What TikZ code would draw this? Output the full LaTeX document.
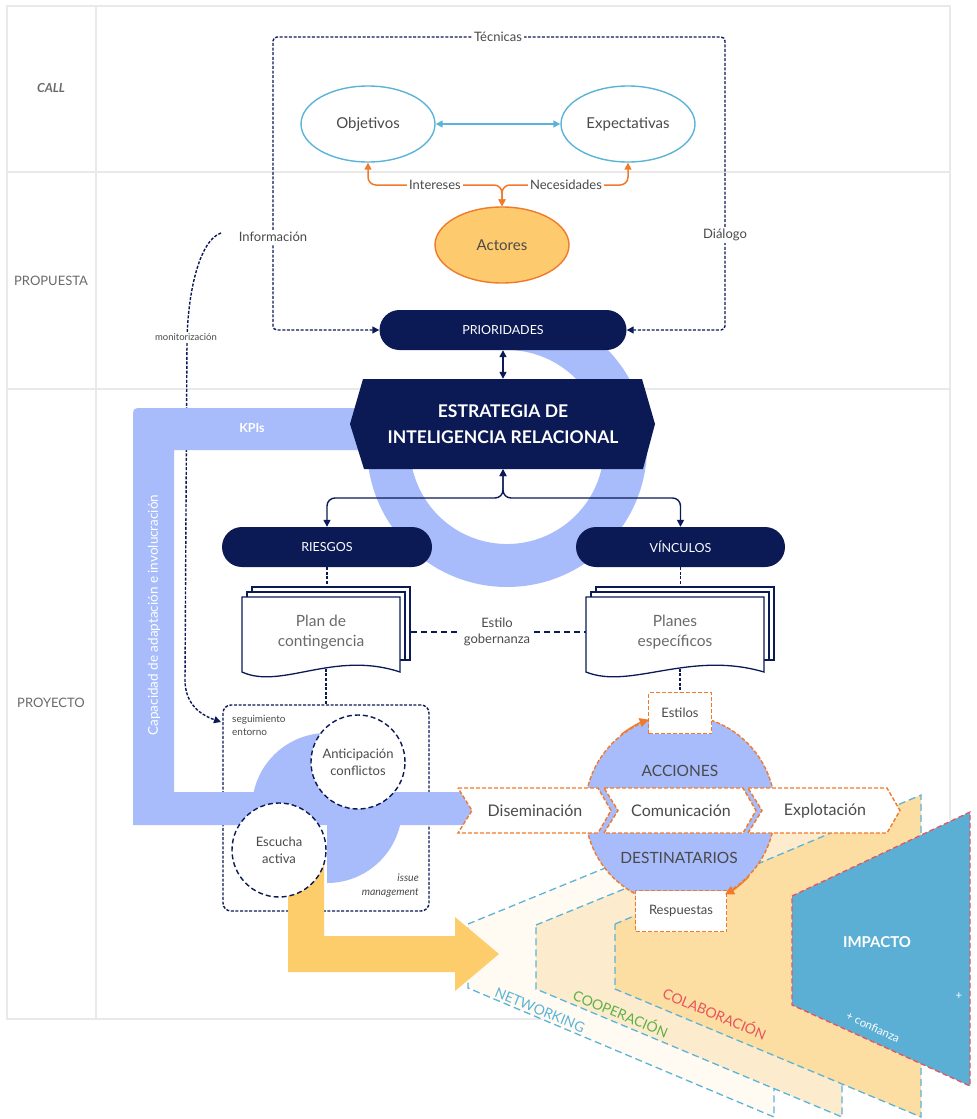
\documentclass[tikz,border=0pt]{standalone}
\usepackage{fontspec}
\setmainfont{Lato}
\usetikzlibrary{arrows.meta,shapes.geometric,calc}
\definecolor{navy}{HTML}{0B1A55}
\definecolor{peri}{HTML}{A8BBFB}
\definecolor{lblue}{HTML}{5BB4D8}
\definecolor{orng}{HTML}{F07A2A}
\definecolor{yel}{HTML}{FECD6B}
\definecolor{actf}{HTML}{FDCB6E}
\definecolor{imp}{HTML}{5BAFD4}
\definecolor{redd}{HTML}{E8535E}
\definecolor{grn}{HTML}{5DB245}
\definecolor{txt}{HTML}{4A4A4A}
\definecolor{txtl}{HTML}{6A6A6A}
\definecolor{gridc}{HTML}{E9E9E9}
\definecolor{netf}{HTML}{FFFBF2}
\definecolor{coopf}{HTML}{FDEBCD}
\definecolor{colf}{HTML}{FCDDA2}
\pgfdeclarelayer{back}
\pgfdeclarelayer{conn}
\pgfsetlayers{back,conn,main}
\newcommand{\fsz}[2]{\fontsize{#1}{#2}\selectfont}
\newcommand{\mydocstack}[4]{%
  \foreach \d in {10,5}{
    \filldraw[fill=white, draw=navy, line width=1.3pt] ({#1+\d},{#3-\d}) rectangle ({#2+\d},{#4-12});
  }
  \filldraw[fill=white, draw=navy, line width=1.3pt] (#1,#3) -- (#2,#3) -- (#2,#4) .. controls ({#1+0.58*(#2-#1)},{#4-22}) and ({#1+0.25*(#2-#1)},{#4+18}) .. (#1,#4) -- cycle;
}
\newcommand{\mychev}[5]{%
  \filldraw[fill=white, draw=orng, line width=1.4pt, dash pattern=on 4pt off 2pt] (#2,788) -- ({#3-13},788) -- (#3,810.5) -- ({#3-13},833) -- (#2,833) -- ({#2+14},810.5) -- cycle;
  \node[font=\fsz{16}{19}, text=txt] (#1) at (#4,810.5) {#5};
}
\begin{document}
\begin{tikzpicture}[x=1pt,y=-1pt,
  arrowend/.style={-{Triangle[length=7pt,width=7pt]}},
  arrowboth/.style={{Triangle[length=7pt,width=7pt]}-{Triangle[length=7pt,width=7pt]}},
  lbl/.style={font=\fsz{13}{15}, text=txt, fill=white, inner sep=2pt},
  navyline/.style={draw=navy, line width=1.4pt},
  navydash/.style={draw=navy, line width=1.4pt, dash pattern=on 3pt off 1.6pt},
  oval/.style={ellipse, draw=lblue, line width=1.4pt, fill=white, minimum width=134pt, minimum height=76pt, font=\fsz{15}{18}, text=txt},
  pill/.style={rectangle, rounded corners=20pt, fill=navy, text=white, minimum height=40pt, font=\fsz{12.5}{15}},
  circdash/.style={circle, draw=navy, line width=1.4pt, dash pattern=on 5pt off 3pt, fill=white, minimum size=94pt, font=\fsz{13}{17}, text=txt, align=center, inner sep=0pt},
  odash/.style={draw=orng, line width=1.4pt, dash pattern=on 4pt off 2pt},
  paneldash/.style={draw=lblue, line width=1.3pt, dash pattern=on 7pt off 4pt},
  doctext/.style={font=\fsz{15.5}{20}, text=txtl, align=center, draw=none}
]
\useasboundingbox (0,0) rectangle (977,1119);

% ================= background layer =================
\begin{pgfonlayer}{back}
\draw[gridc, line width=1.2pt] (7,6) rectangle (950,1019);
\draw[gridc, line width=1.2pt] (96,6) -- (96,1019) (7,172) -- (950,172) (7,389) -- (950,389);
\node[font=\fsz{12.5}{14}\bfseries\itshape, text=txtl] (tcall) at (51,88) {CALL};
\node[font=\fsz{13}{15}, text=txtl] (tprop) at (51,281) {PROPUESTA};
\node[font=\fsz{13}{15}, text=txtl] (tproy) at (51,703) {PROYECTO};
% ring (open arc, starting under PRIORIDADES)
\begin{scope}
\clip (0,314) rectangle (977,1119);
\fill[peri] (507,307) arc[start angle=90, end angle=-195, radius=140pt] -- (413.3,421.9) arc[start angle=165, end angle=450, radius=97pt] -- cycle;
\end{scope}
% monitorizacion curve
\coordinate (mon0) at (221,233);
\coordinate (mon1) at (221,722);
\draw[navydash, arrowend] (mon0) .. controls (200,240) and (188,290) .. (187,340) -- (185,680) .. controls (185,702) and (198,714) .. (mon1);
% issue box
\node[draw=navy, line width=1.4pt, dash pattern=on 3pt off 1.6pt, rounded corners=8pt, minimum width=206pt, minimum height=206pt] (issue) at (326,808) {};
% KPI band
\fill[peri] (362,408) -- (143,408) .. controls (133,408) .. (133,418) -- (133,825) -- (472,825) -- (472,792) -- (174,792) -- (174,450) -- (362,450) -- cycle;
\node[font=\fsz{12.5}{15}\bfseries, text=white] (kpis) at (252,428) {KPIs};
\node[font=\fsz{13.5}{16}, text=white, rotate=90] (capac) at (154,615) {Capacidad de adaptación e involucración};
% blob
\begin{scope}\clip (250,731) rectangle (327,808); \fill[peri] (327,808) circle (75pt); \end{scope}
\begin{scope}\clip (327,808) rectangle (404,885); \fill[peri] (327,808) circle (75pt); \end{scope}
% panels
\filldraw[fill=netf, paneldash] (468,924) -- (774,799) -- (774,1117) -- (468,988) -- cycle;
\filldraw[fill=coopf, paneldash] (536,925) -- (842,800) -- (842,1117) -- (536,989) -- cycle;
\filldraw[fill=colf, paneldash] (615,924) -- (921,795) -- (921,1117) -- (615,989) -- cycle;
\node[font=\fsz{14}{16}, text=lblue, rotate=-22.5, inner sep=0pt] (netl) at (540,1010) {NETWORKING};
\node[font=\fsz{14}{16}, text=grn, rotate=-22.5, inner sep=0pt] (coopl) at (621,1013) {COOPERACIÓN};
\node[font=\fsz{14}{16}, text=redd, rotate=-22.5, inner sep=0pt] (coll) at (715,1013) {COLABORACIÓN};
% impacto
\filldraw[fill=imp, draw=redd, line width=1.3pt, dash pattern=on 5pt off 3pt] (792,896) -- (970,812) -- (970,1086) -- (792,1005) -- cycle;
\node[font=\fsz{15}{18}\bfseries, text=white] (impt) at (877,942) {IMPACTO};
\node[font=\fsz{11.5}{13}, text=white, rotate=-24.5, inner sep=0pt] (conf) at (873,1027) {+ confianza};
\node[font=\fsz{11.5}{13}, text=white, inner sep=0pt] (plus) at (959,996) {+};
% yellow arrow
\fill[yel] (288,860) -- (324,860) -- (324,936) -- (455,936) -- (455,917) -- (499,954) -- (455,991) -- (455,972) -- (288,972) -- cycle;
\end{pgfonlayer}

% ================= main layer =================
\node[oval] (obj) at (368,124) {Objetivos};
\node[oval] (exp) at (628,124) {Expectativas};
\node[oval, fill=actf, draw=orng] (act) at (502,245) {Actores};

\node[pill, minimum width=247pt] (prio) at (503,330) {PRIORIDADES};

\fill[navy] (363,379) -- (642,379) -- (655,424) -- (643,469) -- (364,469) -- (350,424) -- cycle;
\node[font=\fsz{17.5}{26}\bfseries, text=white, align=center, minimum width=290pt, minimum height=90pt] (estr) at (503,424) {ESTRATEGIA DE\\INTELIGENCIA RELACIONAL};

\node[pill, minimum width=210pt] (riesgos) at (327,547) {RIESGOS};
\node[pill, minimum width=209pt] (vinc) at (680.5,547) {VÍNCULOS};

\mydocstack{242}{400}{597}{672}
\mydocstack{586}{764}{597}{672}
\node[doctext, minimum width=158pt, minimum height=72pt] (plan) at (321,632) {Plan de\\contingencia};
\node[doctext, minimum width=178pt, minimum height=72pt] (planes) at (675,632) {Planes\\específicos};
\node[font=\fsz{13}{16}, text=txt, align=center, inner sep=4pt] (gob) at (497,632) {Estilo\\gobernanza};

\node[lbl] (tec) at (498,37) {Técnicas};
\node[lbl] (info) at (273,237) {Información};
\node[lbl] (dial) at (725,235) {Diálogo};
\node[lbl] (inter) at (435,185) {Intereses};
\node[lbl] (neces) at (566,185) {Necesidades};
\node[font=\fsz{9.5}{11}, text=txt, fill=white, inner sep=2pt] (monl) at (186,337) {monitorización};

\node[circdash] (antic) at (358,762) {Anticipación\\conflictos};
\node[circdash] (escu) at (279,850) {Escucha\\activa};
\node[font=\fsz{10}{13}, text=txt, align=left, anchor=north west, inner sep=0pt] (segu) at (232,715) {seguimiento\\entorno};
\node[font=\fsz{10.5}{14}\itshape, text=txt, align=right, anchor=north east, inner sep=0pt] (issuel) at (419,874) {issue\\management};

% acciones
\node[circle, fill=peri, odash, minimum size=190pt] (acc) at (680,810) {};
\node[font=\fsz{15.5}{18}, text=txt] (accl) at (680,771) {ACCIONES};
\node[font=\fsz{15.5}{18}, text=txt] (dest) at (679,858) {DESTINATARIOS};
\mychev{disem}{458}{611}{535}{Diseminación}
\mychev{comun}{604}{756}{681}{Comunicación}
\mychev{explo}{748}{900}{825}{Explotación}
\node[draw=orng, line width=1.4pt, dash pattern=on 4pt off 2pt, fill=white, minimum width=63pt, minimum height=41pt, font=\fsz{13}{15}, text=txt] (estilos) at (680,713) {Estilos};
\node[draw=orng, line width=1.4pt, dash pattern=on 4pt off 2pt, fill=white, minimum width=91pt, minimum height=41pt, font=\fsz{13}{15}, text=txt] (resp) at (681,911) {Respuestas};
\draw[orng, line width=1.4pt, -{Triangle[length=9pt,width=9pt]}] (acc.128) arc[start angle=128, end angle=109, radius=95pt];
\draw[orng, line width=1.4pt, -{Triangle[length=9pt,width=9pt]}] (acc.-44) arc[start angle=-44, end angle=-62, radius=95pt];

% ================= connectors =================
\begin{pgfonlayer}{conn}
\coordinate (lt) at (273,37);
\coordinate (rt) at (725,37);
\draw[navydash, arrowboth, rounded corners=4pt] (prio.west) -- (prio.west -| lt) -- (lt) -- (rt) -- (prio.east -| rt) -- (prio.east);
\coordinate (oy) at (0,185);
\draw[orng, line width=1.5pt, arrowboth, rounded corners=8pt] (act.north) -- (act.north |- oy) -- (obj.south |- oy) -- (obj.south);
\draw[orng, line width=1.5pt, arrowboth, rounded corners=8pt] (act.north) -- (act.north |- oy) -- (exp.south |- oy) -- (exp.south);
\draw[lblue, line width=1.6pt, arrowboth] (obj) -- (exp);
\draw[navyline, arrowboth] (prio.south) -- (estr.north);
\coordinate (jy) at (0,498);
\draw[navyline, arrowboth, rounded corners=8pt] (estr.south) -- (estr.south |- jy) -- (riesgos.north |- jy) -- (riesgos.north);
\draw[navyline, arrowboth, rounded corners=8pt] (estr.south) -- (estr.south |- jy) -- (vinc.north |- jy) -- (vinc.north);
\draw[navydash] (riesgos.south) -- (riesgos.south |- plan.center);
\draw[navydash] (issue.north |- plan.center) -- (issue.north);
\draw[navydash] (vinc.south) -- (vinc.south |- planes.center);
\draw[navydash] (estilos.north |- planes.center) -- (estilos.north);
\draw[navy, line width=1.6pt, dash pattern=on 6pt off 4pt] (plan.center) -- (gob.west);
\draw[navy, line width=1.6pt, dash pattern=on 6pt off 4pt] (gob.east) -- (planes.center);
\end{pgfonlayer}
\end{tikzpicture}
\end{document}
